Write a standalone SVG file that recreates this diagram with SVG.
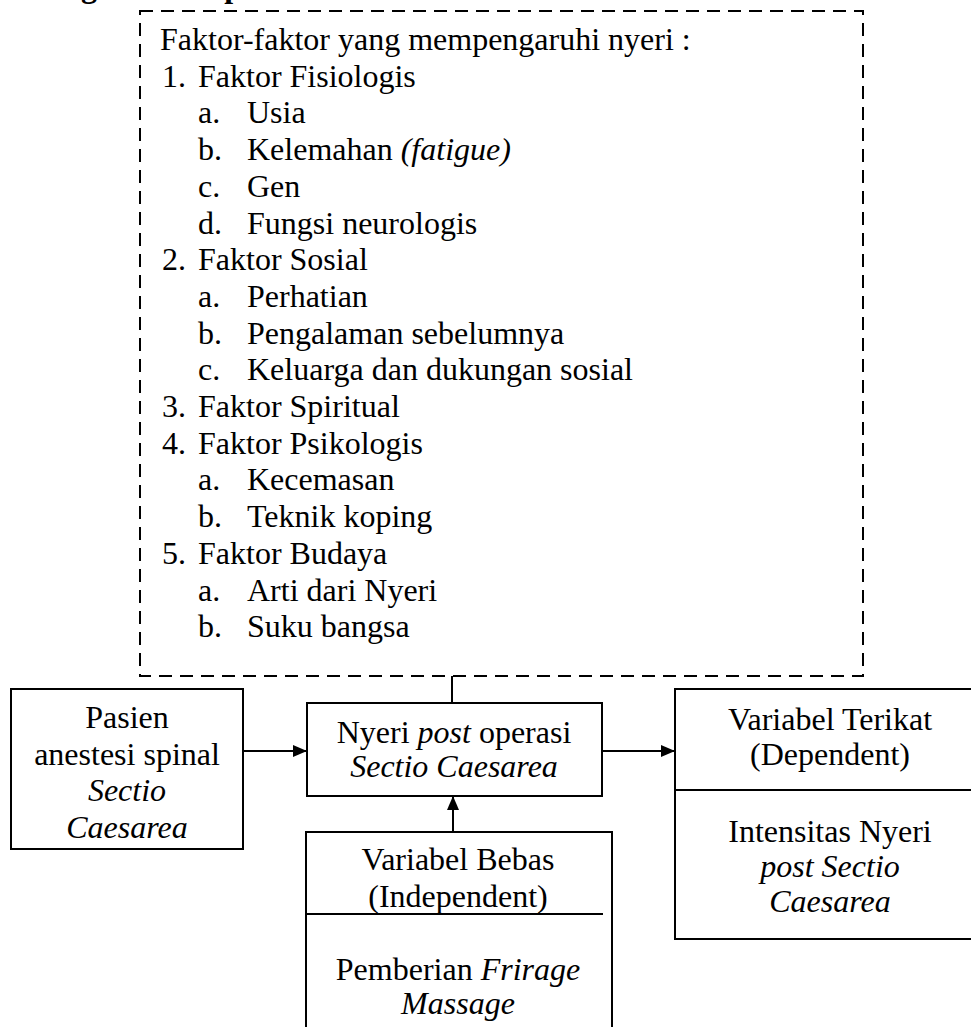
<svg xmlns="http://www.w3.org/2000/svg" width="971" height="1027" viewBox="0 0 971 1027">
<style>
text{font-family:"Liberation Serif","Times New Roman",serif;font-size:32px;fill:#000}
.c{text-anchor:middle}
.i{font-style:italic}
.box{fill:none;stroke:#000;stroke-width:2}
.dash{fill:none;stroke:#000;stroke-width:2;stroke-dasharray:13 8}
.ln{fill:none;stroke:#000;stroke-width:2}
</style>
<defs>
<marker id="ah" viewBox="0 0 14 12" refX="14" refY="6" markerWidth="14" markerHeight="12" markerUnits="userSpaceOnUse" orient="auto">
<path d="M0,0 L14,6 L0,12 z" fill="#000"/>
</marker>
</defs>
<rect width="971" height="1027" fill="#fff"/>
<text x="-6" y="-3" font-weight="bold">Kerangka Konsep</text>

<g id="faktor">
<rect class="dash" x="140" y="11" width="723" height="665"/>
<text x="160" y="50">Faktor-faktor yang mempengaruhi nyeri :</text>
<text x="162" y="86.7">1.</text><text x="198" y="86.7">Faktor Fisiologis</text>
<text x="198" y="123.4">a.</text><text x="247" y="123.4">Usia</text>
<text x="198" y="160.1">b.</text><text x="247" y="160.1">Kelemahan <tspan class="i">(fatigue)</tspan></text>
<text x="198" y="196.8">c.</text><text x="247" y="196.8">Gen</text>
<text x="198" y="233.5">d.</text><text x="247" y="233.5">Fungsi neurologis</text>
<text x="162" y="270.2">2.</text><text x="198" y="270.2">Faktor Sosial</text>
<text x="198" y="306.9">a.</text><text x="247" y="306.9">Perhatian</text>
<text x="198" y="343.6">b.</text><text x="247" y="343.6">Pengalaman sebelumnya</text>
<text x="198" y="380.3">c.</text><text x="247" y="380.3">Keluarga dan dukungan sosial</text>
<text x="162" y="417">3.</text><text x="198" y="417">Faktor Spiritual</text>
<text x="162" y="453.7">4.</text><text x="198" y="453.7">Faktor Psikologis</text>
<text x="198" y="490.4">a.</text><text x="247" y="490.4">Kecemasan</text>
<text x="198" y="527.1">b.</text><text x="247" y="527.1">Teknik koping</text>
<text x="162" y="563.8">5.</text><text x="198" y="563.8">Faktor Budaya</text>
<text x="198" y="600.5">a.</text><text x="247" y="600.5">Arti dari Nyeri</text>
<text x="198" y="637.2">b.</text><text x="247" y="637.2">Suku bangsa</text>
</g>

<g id="pasien">
<rect class="box" x="11" y="689" width="232" height="160"/>
<text class="c" x="127" y="728">Pasien</text>
<text class="c" x="127" y="764.5">anestesi spinal</text>
<text class="c i" x="127" y="801">Sectio</text>
<text class="c i" x="127" y="837.5">Caesarea</text>
</g>

<g id="nyeri">
<rect class="box" x="307" y="703" width="295" height="93"/>
<text class="c" x="454" y="743">Nyeri <tspan class="i">post</tspan> operasi</text>
<text class="c i" x="454" y="777">Sectio Caesarea</text>
</g>

<g id="terikat">
<rect class="box" x="675" y="689" width="310" height="250"/>
<line class="ln" x1="675" y1="790" x2="985" y2="790"/>
<text class="c" x="830" y="730">Variabel Terikat</text>
<text class="c" x="830" y="765">(Dependent)</text>
<text class="c" x="830" y="842">Intensitas Nyeri</text>
<text class="c i" x="830" y="877">post Sectio</text>
<text class="c i" x="830" y="912">Caesarea</text>
</g>

<g id="bebas">
<path class="box" d="M306,1035 V832 H612 V1035"/>
<line class="ln" x1="306" y1="914" x2="603" y2="914"/>
<text class="c" x="458" y="870">Variabel Bebas</text>
<text class="c" x="458" y="907">(Independent)</text>
<text class="c" x="458" y="980">Pemberian <tspan class="i">Frirage</tspan></text>
<text class="c i" x="458" y="1014">Massage</text>
</g>

<g id="connectors">
<line class="ln" x1="452" y1="676" x2="452" y2="703"/>
<line class="ln" x1="243" y1="751" x2="307" y2="751" marker-end="url(#ah)"/>
<line class="ln" x1="603" y1="751" x2="675" y2="751" marker-end="url(#ah)"/>
<line class="ln" x1="453" y1="832" x2="453" y2="796" marker-end="url(#ah)"/>
</g>
</svg>
